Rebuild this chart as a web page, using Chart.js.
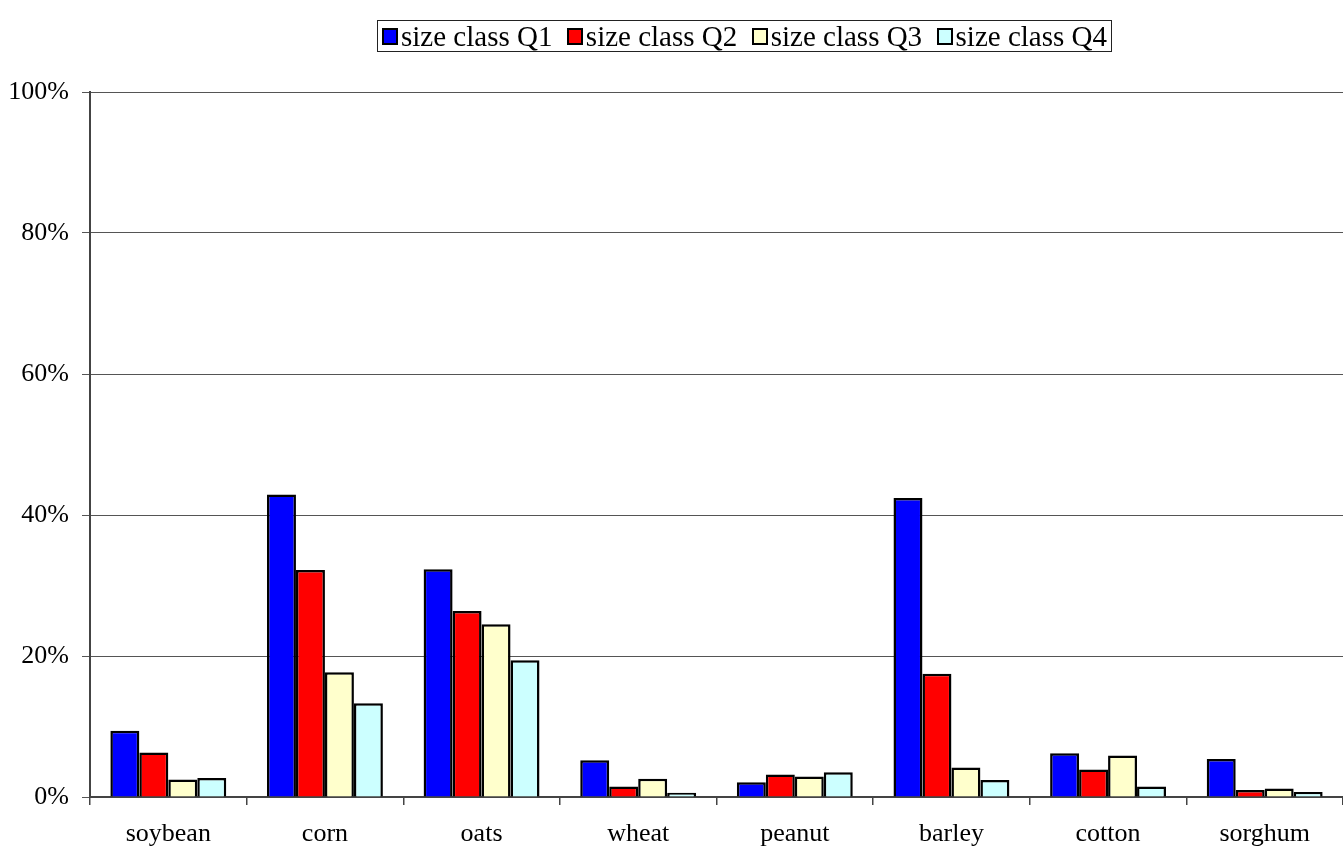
<!DOCTYPE html>
<html>
<head>
<meta charset="utf-8">
<script src="https://cdn.jsdelivr.net/npm/chart.js@4"></script>
<style>
    html, body { margin: 0; padding: 0; background: #fff; }
    #wrap { position: relative; width: 1343px; height: 853px; }
    #legend {
        position: absolute; left: 377px; top: 20px; width: 725px; height: 30px;
        border: 1.5px solid #222; padding: 0 4px;
        display: flex; align-items: center; justify-content: space-between;
        font-family: "Liberation Serif", "Times New Roman", serif; font-size: 29px; color: #000;
        white-space: nowrap; line-height: 30px;
    }
    #legend .item { display: flex; align-items: center; }
    #legend .sw { width: 12px; height: 13px; border: 2px solid #000; margin-right: 3px; }
</style>
</head>
<body>
<div id="wrap">
    <canvas id="chart" width="1343" height="853"></canvas>
    <div id="legend"></div>
</div>
<script>
var categories = ['soybean', 'corn', 'oats', 'wheat', 'peanut', 'barley', 'cotton', 'sorghum'];
var seriesNames = ['size class Q1', 'size class Q2', 'size class Q3', 'size class Q4'];
var q1Values = [9.4, 42.9, 32.3, 5.2, 2.1, 42.4, 6.2, 5.4];
var q2Values = [6.3, 32.2, 26.4, 1.5, 3.2, 17.5, 3.9, 1.0];
var q3Values = [2.5, 17.7, 24.5, 2.6, 2.9, 4.2, 5.9, 1.2];
var q4Values = [2.7, 13.3, 19.4, 0.6, 3.5, 2.4, 1.5, 0.7];
var yTicks = [0, 20, 40, 60, 80, 100];
var seriesColors = ['#0000FF', '#FF0000', '#FFFFCC', '#CCFFFF'];

(function () {
    var font = { family: '"Liberation Serif", "Times New Roman", serif', size: 26 };
    var allValues = [q1Values, q2Values, q3Values, q4Values];

    var datasets = allValues.map(function (vals, i) {
        return {
            label: seriesNames[i],
            data: vals,
            backgroundColor: seriesColors[i],
            borderColor: '#000',
            borderWidth: 2.5,
            borderSkipped: 'bottom',
            categoryPercentage: 0.74,
            barPercentage: 1.0
        };
    });

    // html legend with a frame, like the original
    var legend = document.getElementById('legend');
    seriesNames.forEach(function (name, i) {
        var item = document.createElement('span');
        item.className = 'item';
        var sw = document.createElement('span');
        sw.className = 'sw';
        sw.style.background = seriesColors[i];
        item.appendChild(sw);
        item.appendChild(document.createTextNode(name));
        legend.appendChild(item);
    });

    new Chart(document.getElementById('chart'), {
        type: 'bar',
        data: { labels: categories, datasets: datasets },
        options: {
            responsive: false,
            animation: false,
            layout: { padding: { top: 92, right: 0, left: 0, bottom: 0 } },
            plugins: { legend: { display: false }, tooltip: { enabled: false } },
            scales: {
                x: {
                    grid: { offset: true, drawOnChartArea: false, drawTicks: true, tickLength: 8, color: '#444', lineWidth: 1.5 },
                    border: { color: '#444', width: 2 },
                    ticks: { color: '#000', font: font, padding: 14, maxRotation: 0 },
                    afterFit: function (s) { s.height = 56; }
                },
                y: {
                    min: 0,
                    max: 100,
                    afterBuildTicks: function (s) {
                        s.ticks = yTicks.map(function (v) { return { value: v }; });
                    },
                    grid: { color: '#555', lineWidth: 1, tickLength: 8 },
                    border: { color: '#444', width: 2 },
                    ticks: {
                        color: '#000', font: font, padding: 13,
                        callback: function (v) { return v + '%'; }
                    },
                    afterFit: function (s) { s.width = 90; }
                }
            }
        }
    });
})();
</script>
</body>
</html>
